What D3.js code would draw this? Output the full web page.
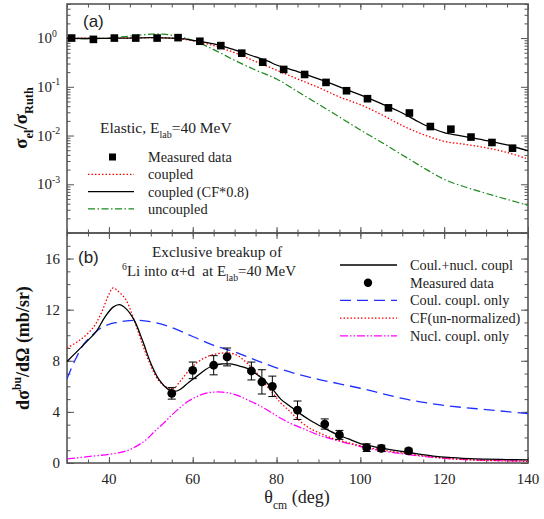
<!DOCTYPE html>
<html><head><meta charset="utf-8">
<script src="https://cdn.jsdelivr.net/npm/d3@7"></script>
<style>body{margin:0;background:#fff}svg{display:block}</style>
</head><body><svg id="c" width="544" height="519"></svg>
<script>
// ---------- Panel (a): elastic ----------
const elAngles = [31.1, 36.3, 41.3, 46.4, 51.5, 56.5, 61.7, 66.7, 71.7, 76.7, 81.7, 86.7, 91.8, 96.7, 101.7, 106.7, 111.7, 116.7, 121.6, 126.4, 131.4, 136.3];
const elRatio  = [1.0, 0.94, 1.0, 1.0, 1.0, 1.02, 0.86, 0.70, 0.49, 0.32, 0.227, 0.179, 0.123, 0.083, 0.057, 0.037, 0.029, 0.0153, 0.0135, 0.0093, 0.0072, 0.0055];

const cf08Angles = [30, 35, 40, 45, 50, 55, 58, 60, 65, 70, 75, 78, 80, 85, 90, 95, 100, 105, 110, 113, 116, 120, 125, 130, 135, 140];
const cf08Vals   = [1.0, 0.98, 0.99, 1.0, 1.02, 1.0, 0.96, 0.9, 0.76, 0.57, 0.41, 0.335, 0.28, 0.205, 0.145, 0.1, 0.068, 0.045, 0.029, 0.021, 0.0155, 0.0115, 0.0095, 0.0079, 0.0064, 0.0049];

const coupAngles = [30, 40, 50, 55, 60, 65, 70, 75, 80, 85, 90, 95, 100, 105, 110, 115, 120, 125, 130, 135, 140];
const coupVals   = [1.0, 0.99, 1.02, 1.0, 0.88, 0.7, 0.5, 0.33, 0.22, 0.145, 0.097, 0.062, 0.043, 0.027, 0.016, 0.0105, 0.0076, 0.0066, 0.0056, 0.0045, 0.0033];

const uncAngles = [30, 35, 40, 45, 50, 53, 56, 60, 65, 70, 75, 80, 85, 90, 95, 100, 105, 110, 115, 120, 125, 130, 135, 140];
const uncVals   = [0.98, 0.97, 1.0, 1.1, 1.2, 1.2, 1.1, 0.9, 0.58, 0.35, 0.22, 0.145, 0.08, 0.044, 0.024, 0.013, 0.0073, 0.004, 0.0022, 0.00126, 0.00088, 0.00065, 0.00049, 0.00037];

// ---------- Panel (b): breakup ----------
const buAngles = [55, 60, 65, 68.2, 74, 76.5, 79, 85, 91.5, 95, 101.5, 105, 111.5];
const buVals   = [5.45, 7.25, 7.65, 8.3, 7.2, 6.35, 6.0, 4.13, 3.05, 2.2, 1.2, 1.15, 0.95];
const buErr    = [0.45, 0.65, 0.75, 0.7, 0.7, 0.95, 0.8, 0.72, 0.4, 0.35, 0.3, 0.25, 0.2];

const cnAngles = [30, 32, 35, 37, 39, 41, 42.5, 44, 46, 48, 50, 52, 54, 55.5, 57, 59, 61, 63, 65, 67, 69, 71, 73, 75, 77, 79, 81, 83, 85, 88, 91, 94, 97, 100, 103, 106, 110, 114, 118, 122, 126, 130, 135, 140];
const cnVals   = [7.95, 8.6, 9.6, 10.3, 11.4, 12.2, 12.4, 12.1, 11.2, 9.6, 7.8, 6.5, 5.8, 5.6, 5.75, 6.3, 6.8, 7.3, 7.65, 7.75, 7.75, 7.6, 7.4, 7.0, 6.5, 5.8, 5.0, 4.5, 4.0, 3.35, 2.8, 2.3, 1.9, 1.52, 1.3, 1.1, 0.9, 0.7, 0.52, 0.42, 0.34, 0.3, 0.27, 0.25];

const cfAngles = [30, 33, 36, 38, 40, 41, 42, 44, 46, 48, 50, 52, 54, 55.5, 57, 59, 61, 63, 65, 67, 69, 71, 73, 75, 77, 79, 81, 83, 85, 88, 91, 94, 97, 100, 103, 106, 110, 114, 118, 122, 126, 130, 135, 140];
const cfVals   = [9.0, 9.6, 10.5, 11.6, 13.2, 13.7, 13.5, 12.8, 11.2, 9.3, 7.6, 6.4, 5.9, 5.85, 6.4, 7.2, 7.85, 8.25, 8.5, 8.6, 8.6, 8.35, 7.8, 7.15, 6.3, 5.5, 4.7, 4.1, 3.45, 2.7, 2.25, 1.85, 1.6, 1.35, 1.15, 0.98, 0.78, 0.6, 0.45, 0.33, 0.25, 0.2, 0.16, 0.13];

const coulAngles = [30, 32, 34, 36, 38, 40, 42, 45, 48, 51, 55, 60, 65, 70, 75, 80, 85, 90, 95, 100, 105, 110, 115, 120, 125, 130, 135, 140];
const coulVals   = [6.6, 8.1, 9.3, 10.0, 10.55, 10.85, 11.0, 11.15, 11.15, 11.0, 10.6, 9.9, 9.2, 8.7, 8.05, 7.45, 6.95, 6.55, 6.2, 5.85, 5.45, 5.05, 4.75, 4.5, 4.33, 4.18, 4.02, 3.87];

const nucAngles = [30, 35, 40, 43, 45, 47, 49, 51, 53, 55, 57, 59, 61, 63, 65, 67, 69, 71, 73, 75, 77, 79, 81, 84, 87, 90, 94, 98, 102, 106, 110, 114, 118, 122, 126, 130, 135, 140];
const nucVals   = [0.32, 0.5, 0.68, 0.85, 1.05, 1.4, 1.85, 2.5, 3.1, 3.75, 4.35, 4.85, 5.2, 5.45, 5.55, 5.55, 5.45, 5.25, 4.95, 4.65, 4.3, 3.9, 3.5, 3.0, 2.6, 2.2, 1.8, 1.45, 1.15, 0.9, 0.72, 0.55, 0.42, 0.32, 0.25, 0.21, 0.18, 0.16];

// ---------- Tick values ----------
const xMajor = [40, 60, 80, 100, 120, 140];
const xMinor = d3.range(30, 141, 5);
const logMajor = [1e-4, 1e-3, 1e-2, 1e-1, 1];
const logMajorLabels = ["", "-3", "-2", "-1", "0"];
const linMajor = [0, 4, 8, 12, 16];
const linMinor = d3.range(0, 19, 1);

// ---------- Drawing ----------
const svg = d3.select("#c");
const SERIF = "'Liberation Serif','Times New Roman',serif";
const SANS = "'Liberation Sans',Arial,sans-serif";
const L = 67, R = 528;
const x = d3.scaleLinear().domain([30, 140]).range([L, R]);
const yA = d3.scaleLog().domain([1e-4, 5]).range([233, 4]);
const yB = d3.scaleLinear().domain([0, 18]).range([463, 233]);
const FRAME = "#555";
const LEGFS = 14.3;

function rich(sel, parts, fs) {
  let shift = 0;
  parts.forEach(([t, k]) => {
    const target = k === "sub" ? fs * 0.32 : k === "sup" ? -fs * 0.42 : 0;
    const ts = sel.append("tspan").attr("dy", target - shift).text(t);
    if (k !== "n") ts.attr("font-size", fs * 0.65);
    shift = target;
  });
  return sel;
}

function frameAxes(yScale, top, bottom, yMajorVals, yMinorVals) {
  const g = svg.append("g");
  const axStyle = a => a.call(s => s.select(".domain").remove())
    .call(s => s.selectAll("line").attr("stroke", FRAME).attr("stroke-width", 1))
    .call(s => s.selectAll("text").remove());
  g.append("g").attr("transform", `translate(0,${bottom})`)
    .call(d3.axisBottom(x).tickValues(xMinor).tickSize(-3.5)).call(axStyle);
  g.append("g").attr("transform", `translate(0,${bottom})`)
    .call(d3.axisBottom(x).tickValues(xMajor).tickSize(-6)).call(axStyle);
  g.append("g").attr("transform", `translate(0,${top})`)
    .call(d3.axisTop(x).tickValues(xMinor).tickSize(-3.5)).call(axStyle);
  g.append("g").attr("transform", `translate(0,${top})`)
    .call(d3.axisTop(x).tickValues(xMajor).tickSize(-6)).call(axStyle);
  g.append("g").attr("transform", `translate(${L},0)`)
    .call(d3.axisLeft(yScale).tickValues(yMinorVals).tickSize(-3.5)).call(axStyle);
  g.append("g").attr("transform", `translate(${L},0)`)
    .call(d3.axisLeft(yScale).tickValues(yMajorVals).tickSize(-7)).call(axStyle);
  g.append("g").attr("transform", `translate(${R},0)`)
    .call(d3.axisRight(yScale).tickValues(yMinorVals).tickSize(-3.5)).call(axStyle);
  g.append("g").attr("transform", `translate(${R},0)`)
    .call(d3.axisRight(yScale).tickValues(yMajorVals).tickSize(-7)).call(axStyle);
  g.append("rect").attr("x", L).attr("y", top).attr("width", R - L).attr("height", bottom - top)
    .attr("fill", "none").attr("stroke", FRAME).attr("stroke-width", 1.6);
}

const logMinor = [];
[-4, -3, -2, -1, 0].forEach(d => { for (let m = 2; m <= 9; m++) { const v = m * Math.pow(10, d); if (v <= 5) logMinor.push(v); } });
frameAxes(yA, 4, 233, logMajor, logMinor);
frameAxes(yB, 233, 463, linMajor, linMinor);

logMajor.forEach((v, i) => {
  if (!logMajorLabels[i]) return;
  const t = svg.append("text").attr("x", 37).attr("y", yA(v) + 5)
    .attr("font-family", SERIF).attr("font-size", 15).attr("fill", "#222");
  rich(t, [["10", "n"], [logMajorLabels[i], "sup"]], 15);
});
linMajor.forEach(v => {
  svg.append("text").attr("x", 60).attr("y", yB(v) + 5).attr("text-anchor", "end")
    .attr("font-family", SERIF).attr("font-size", 15).attr("fill", "#222").text(v);
});
xMajor.forEach(v => {
  svg.append("text").attr("x", x(v)).attr("y", 484).attr("text-anchor", "middle")
    .attr("font-family", SERIF).attr("font-size", 15).attr("fill", "#222").text(v);
});

const yt1 = svg.append("text").attr("transform", "translate(27,118) rotate(-90)")
  .attr("text-anchor", "middle").attr("font-family", SERIF).attr("font-weight", "bold")
  .attr("font-size", 19).attr("fill", "#111");
rich(yt1, [["σ", "n"], ["el", "sub"], ["/σ", "n"], ["Ruth", "sub"]], 19);
const yt2 = svg.append("text").attr("transform", "translate(29,348) rotate(-90)")
  .attr("text-anchor", "middle").attr("font-family", SERIF).attr("font-weight", "bold")
  .attr("font-size", 18).attr("fill", "#111");
rich(yt2, [["dσ", "n"], ["bu", "sup"], ["/dΩ (mb/sr)", "n"]], 18);
const xt = svg.append("text").attr("x", 297).attr("y", 503).attr("text-anchor", "middle")
  .attr("font-family", SERIF).attr("font-size", 18).attr("fill", "#222");
rich(xt, [["θ", "n"], ["cm", "sub"], [" (deg)", "n"]], 18);

const lineA = d3.line().x(d => x(d[0])).y(d => yA(d[1])).curve(d3.curveCatmullRom.alpha(0.5));
const lineB = d3.line().x(d => x(d[0])).y(d => yB(d[1])).curve(d3.curveCatmullRom.alpha(0.5));
const zip = (a, b) => a.map((v, i) => [v, b[i]]);

const styles = {
  red:   { stroke: "#ff0000", dash: "1.5,2", w: 1.3 },
  black: { stroke: "#000", dash: null, w: 1.3 },
  green: { stroke: "#1a8a1a", dash: "7,2.5,1.5,2.5", w: 1.2 },
  blue:  { stroke: "#1f2fff", dash: "11,6", w: 1.3 },
  mag:   { stroke: "#ff00ff", dash: "8,2,1.5,2,1.5,2", w: 1.3 }
};
function styled(sel, s) {
  sel.attr("fill", "none").attr("stroke", s.stroke).attr("stroke-width", s.w);
  if (s.dash) sel.attr("stroke-dasharray", s.dash);
  return sel;
}
svg.append("clipPath").attr("id", "ca").append("rect").attr("x", L).attr("y", 4).attr("width", R - L).attr("height", 229);
svg.append("clipPath").attr("id", "cb").append("rect").attr("x", L).attr("y", 233).attr("width", R - L).attr("height", 230);
const gA = svg.append("g").attr("clip-path", "url(#ca)");
const gB = svg.append("g").attr("clip-path", "url(#cb)");

styled(gA.append("path").attr("d", lineA(zip(uncAngles, uncVals))), styles.green);
styled(gA.append("path").attr("d", lineA(zip(coupAngles, coupVals))), styles.red);
styled(gA.append("path").attr("d", lineA(zip(cf08Angles, cf08Vals))), styles.black);
gA.selectAll("rect.pt").data(zip(elAngles, elRatio)).join("rect")
  .attr("x", d => x(d[0]) - 3.8).attr("y", d => yA(d[1]) - 3.8)
  .attr("width", 7.6).attr("height", 7.6).attr("fill", "#000");

styled(gB.append("path").attr("d", lineB(zip(coulAngles, coulVals))), styles.blue);
styled(gB.append("path").attr("d", lineB(zip(nucAngles, nucVals))), styles.mag);
styled(gB.append("path").attr("d", lineB(zip(cfAngles, cfVals))), styles.red);
styled(gB.append("path").attr("d", lineB(zip(cnAngles, cnVals))), styles.black);
const pts = buAngles.map((a, i) => ({ a, v: buVals[i], e: buErr[i] }));
const eb = gB.selectAll("g.eb").data(pts).join("g").attr("stroke", "#000").attr("stroke-width", 1);
eb.append("line").attr("x1", d => x(d.a)).attr("x2", d => x(d.a)).attr("y1", d => yB(d.v + d.e)).attr("y2", d => yB(d.v - d.e));
eb.append("line").attr("x1", d => x(d.a) - 4).attr("x2", d => x(d.a) + 4).attr("y1", d => yB(d.v + d.e)).attr("y2", d => yB(d.v + d.e));
eb.append("line").attr("x1", d => x(d.a) - 4).attr("x2", d => x(d.a) + 4).attr("y1", d => yB(d.v - d.e)).attr("y2", d => yB(d.v - d.e));
gB.selectAll("circle.pt").data(pts).join("circle")
  .attr("cx", d => x(d.a)).attr("cy", d => yB(d.v)).attr("r", 4.4).attr("fill", "#000");

svg.append("text").attr("x", 83).attr("y", 27).attr("font-family", SANS).attr("font-size", 17).attr("fill", "#222").text("(a)");
svg.append("text").attr("x", 78).attr("y", 263).attr("font-family", SANS).attr("font-size", 17).attr("fill", "#222").text("(b)");

const ann = svg.append("text").attr("x", 100).attr("y", 133).attr("font-family", SERIF).attr("font-size", 15.5).attr("fill", "#222");
rich(ann, [["Elastic, E", "n"], ["lab", "sub"], ["=40 MeV", "n"]], 15.5);
const legA = [
  { label: "Measured data", kind: "square" },
  { label: "coupled", kind: "line", s: styles.red },
  { label: "coupled (CF*0.8)", kind: "line", s: styles.black },
  { label: "uncoupled", kind: "line", s: styles.green }
];
legA.forEach((d, i) => {
  const yy = 157 + i * 17.3;
  if (d.kind === "square") svg.append("rect").attr("x", 109).attr("y", yy - 3.5).attr("width", 7).attr("height", 7).attr("fill", "#000");
  else styled(svg.append("line").attr("x1", 88).attr("x2", 134).attr("y1", yy).attr("y2", yy), d.s);
  svg.append("text").attr("x", 148).attr("y", yy + 5).attr("font-family", SERIF).attr("font-size", LEGFS).attr("fill", "#222").text(d.label);
});

svg.append("text").attr("x", 152).attr("y", 257).attr("font-family", SERIF).attr("font-size", 15.3).attr("fill", "#222").text("Exclusive breakup of");
const ann2 = svg.append("text").attr("x", 122).attr("y", 276).attr("font-family", SERIF).attr("font-size", 15).attr("fill", "#222");
rich(ann2, [["6", "sup"], ["Li into α+d\u00a0\u00a0at E", "n"], ["lab", "sub"], ["=40 MeV", "n"]], 15);
const legB = [
  { label: "Coul.+nucl. coupl", kind: "line", s: styles.black },
  { label: "Measured data", kind: "circle" },
  { label: "Coul. coupl. only", kind: "line", s: styles.blue },
  { label: "CF(un-normalized)", kind: "line", s: styles.red },
  { label: "Nucl. coupl. only", kind: "line", s: styles.mag }
];
legB.forEach((d, i) => {
  const yy = 265 + i * 17.7;
  if (d.kind === "circle") svg.append("circle").attr("cx", 368).attr("cy", yy).attr("r", 4.2).attr("fill", "#000");
  else styled(svg.append("line").attr("x1", 340).attr("x2", 397).attr("y1", yy).attr("y2", yy), d.s);
  svg.append("text").attr("x", 410).attr("y", yy + 5).attr("font-family", SERIF).attr("font-size", LEGFS).attr("fill", "#222").text(d.label);
});
</script></body></html>
